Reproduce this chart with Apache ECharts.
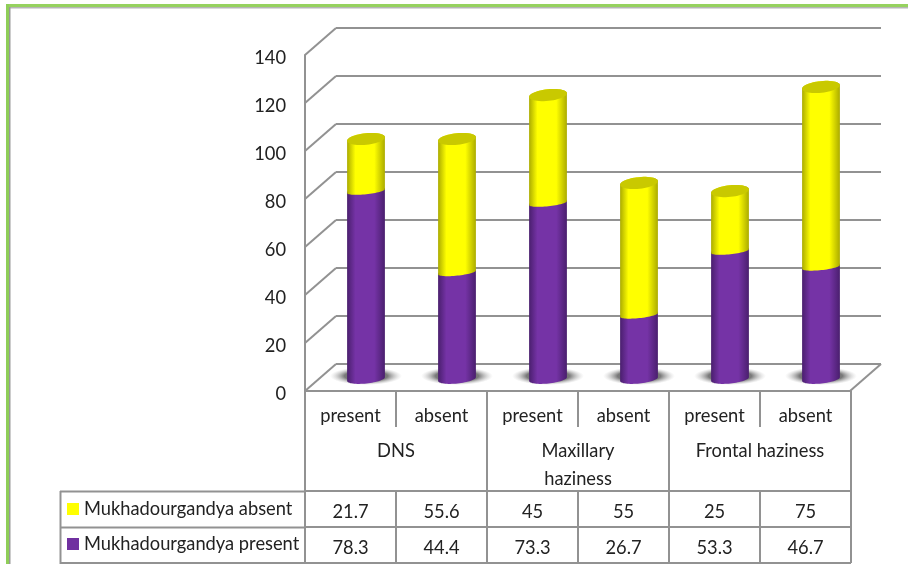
<!DOCTYPE html>
<html>
<head>
<meta charset="utf-8">
<style>html,body{margin:0;padding:0;background:#fff}#c{width:908px;height:564px}</style>
<script src="https://cdn.jsdelivr.net/npm/echarts@6/dist/echarts.min.js"></script>
</head>
<body>
<div id="c"></div>
<script>
const subCategories = ['present', 'absent', 'present', 'absent', 'present', 'absent'];
const groupCategories = ['DNS', 'Maxillary\nhaziness', 'Frontal haziness'];
const presentValues = [78.3, 44.4, 73.3, 26.7, 53.3, 46.7];
const absentValues = [21.7, 55.6, 45, 55, 25, 75];
const presentName = 'Mukhadourgandya present';
const absentName = 'Mukhadourgandya absent';
const yTicks = [0, 20, 40, 60, 80, 100, 120, 140];

const FONT = 'Lato';
const FONT_SIZE = 18.3;
const TEXT = '#222';
const LINE = '#929292';
const DEPTH_X = 31, DEPTH_Y = 27;
const RX = 19, RY = 5.8, TILT = -6 * Math.PI / 180;

// Point on a tilted ellipse around (cx, cy)
function ell(cx, cy, t, ry) {
  const x = RX * Math.cos(t), y = ry * Math.sin(t);
  return [cx + x * Math.cos(TILT) - y * Math.sin(TILT), cy + x * Math.sin(TILT) + y * Math.cos(TILT)];
}
// Outline of the cylinder wall between two centre points, lower edge curved
function bodyPoints(cx, yLow, yHigh, lowRy) {
  const pts = [];
  for (let k = 0; k <= 32; k++) pts.push(ell(cx, yLow, Math.PI * k / 32, lowRy));
  for (let k = 0; k <= 32; k++) pts.push(ell(cx, yHigh, Math.PI + Math.PI * k / 32, RY));
  return pts;
}
function capPoints(cx, cy) {
  const pts = [];
  for (let k = 0; k < 48; k++) pts.push(ell(cx, cy, 2 * Math.PI * k / 48, RY));
  return pts;
}
function sideGradient(edge, mid) {
  return new echarts.graphic.LinearGradient(0, 0, 1, 0, [
    { offset: 0, color: edge }, { offset: 0.22, color: mid },
    { offset: 0.72, color: mid }, { offset: 1, color: edge }
  ]);
}
function cylinderItem(edge, mid, capColor, onFloor) {
  return function (params, api) {
    const i = api.value(0);
    const low = api.coord([i, api.value(1)]);
    const high = api.coord([i, api.value(2)]);
    const children = [];
    if (onFloor) {
      // Soft contact shadow: a unit circle stretched into an ellipse
      children.push({
        type: 'circle',
        x: low[0], y: low[1] - 3, scaleX: 36, scaleY: 9,
        shape: { cx: 0, cy: 0, r: 1 },
        style: {
          fill: new echarts.graphic.RadialGradient(0.5, 0.5, 0.5, [
            { offset: 0, color: 'rgba(70,70,70,0.95)' },
            { offset: 0.6, color: 'rgba(100,100,100,0.85)' },
            { offset: 1, color: 'rgba(190,190,190,0)' }
          ])
        }
      });
    }
    children.push({
      type: 'polygon',
      shape: { points: bodyPoints(low[0], low[1], high[1], onFloor ? 4.5 : 3.2) },
      style: { fill: sideGradient(edge, mid) }
    });
    if (capColor) {
      children.push({
        type: 'polygon',
        shape: { points: capPoints(high[0], high[1]) },
        style: { fill: capColor }
      });
    }
    return { type: 'group', children };
  };
}

const presentData = presentValues.map((v, i) => [i, 0, v]);
const absentData = absentValues.map((v, i) => [i, presentValues[i], presentValues[i] + v]);

// Category axes stacked under the plot: labels, group names and the two table rows
const bottomAxis = (data, offset, margin, tickLen, extra) => Object.assign({
  type: 'category', gridIndex: 0, position: 'bottom', data, offset,
  axisLine: { show: true, onZero: false, lineStyle: { color: LINE, width: 2 } },
  axisTick: { show: true, length: tickLen, lineStyle: { color: LINE, width: 2 } },
  axisLabel: { show: true, interval: 0, margin, verticalAlign: 'top', fontFamily: FONT, fontSize: FONT_SIZE, color: TEXT, lineHeight: 28 }
}, extra || {});

const option = {
  animation: false,
  backgroundColor: '#fff',
  grid: [
    { left: 305, top: 55, width: 546, height: 336 },
    { left: 320.5, top: 43, width: 546, height: 336 },
    { left: 336, top: 28, width: 545, height: 336 }
  ],
  xAxis: [
    bottomAxis(subCategories, 0, 11, 36),
    bottomAxis(groupCategories, 0, 46, 100, { axisLine: { show: false } }),
    bottomAxis(absentValues.map(String), 100, 7, 36),
    bottomAxis(presentValues.map(String), 136, 7, 36),
    { type: 'category', gridIndex: 1, data: subCategories, show: false },
    { type: 'category', gridIndex: 2, data: subCategories, show: false }
  ],
  yAxis: [
    {
      type: 'value', gridIndex: 0, min: 0, max: 140, interval: 20,
      axisLine: { show: true, lineStyle: { color: LINE, width: 2 } },
      axisTick: { show: false }, splitLine: { show: false },
      axisLabel: { margin: 19, fontFamily: FONT, fontSize: FONT_SIZE, color: TEXT, verticalAlign: 'top', lineHeight: 6 }
    },
    { type: 'value', gridIndex: 1, min: 0, max: 140, interval: 20, show: false },
    {
      type: 'value', gridIndex: 2, min: 0, max: 140, interval: 20,
      axisLine: { show: false }, axisTick: { show: false }, axisLabel: { show: false },
      splitLine: { show: true, lineStyle: { color: LINE, width: 2 } }
    }
  ],
  legend: {
    orient: 'vertical', left: 62, top: 495, itemWidth: 12, itemHeight: 12, itemGap: 17,
    selectedMode: false, data: [absentName, presentName], icon: 'rect',
    textStyle: { fontFamily: FONT, fontSize: FONT_SIZE, color: TEXT }
  },
  series: [
    {
      // Receding edges joining the front axis to the back wall
      type: 'custom', xAxisIndex: 5, yAxisIndex: 2, silent: true, clip: false, z: 1,
      data: yTicks.map(v => [0, v]),
      renderItem(params, api) {
        const v = api.value(1);
        const y = api.coord([0, v])[1];
        const left = params.coordSys.x;
        const right = left + params.coordSys.width;
        const st = { stroke: LINE, lineWidth: 2, fill: 'none' };
        const children = [{
          type: 'line', shape: { x1: left, y1: y, x2: left - DEPTH_X, y2: y + DEPTH_Y }, style: st
        }];
        if (v === 0) {
          children.push({ type: 'line', shape: { x1: right, y1: y, x2: right - DEPTH_X, y2: y + DEPTH_Y }, style: st });
        }
        return { type: 'group', children };
      }
    },
    {
      name: presentName, type: 'custom', xAxisIndex: 4, yAxisIndex: 1, clip: false, z: 3,
      itemStyle: { color: '#7030A0' },
      encode: { x: 0, y: [1, 2] },
      data: presentData,
      renderItem: cylinderItem('#4A1F6E', '#7533A6', null, true)
    },
    {
      name: absentName, type: 'custom', xAxisIndex: 4, yAxisIndex: 1, clip: false, z: 4,
      itemStyle: { color: '#FFFF00' },
      encode: { x: 0, y: [1, 2] },
      data: absentData,
      renderItem: cylinderItem('#ABAB00', '#FFFF00', '#C9C900', false)
    }
  ],
  graphic: [
    // Outer frame
    { type: 'rect', shape: { x: 6, y: 4, width: 902, height: 3 }, style: { fill: '#96D25F' }, silent: true },
    { type: 'rect', shape: { x: 6, y: 4, width: 3, height: 560 }, style: { fill: '#8FCE58' }, silent: true },
    { type: 'rect', shape: { x: 9, y: 7, width: 899, height: 1.5 }, style: { fill: '#B5B5B5' }, silent: true },
    { type: 'rect', shape: { x: 9, y: 7, width: 1.5, height: 557 }, style: { fill: '#999' }, silent: true },
    // Row-header part of the data table
    { type: 'line', shape: { x1: 60, y1: 491.5, x2: 305, y2: 491.5 }, style: { stroke: LINE, lineWidth: 2 }, silent: true },
    { type: 'line', shape: { x1: 60, y1: 527.5, x2: 305, y2: 527.5 }, style: { stroke: LINE, lineWidth: 2 }, silent: true },
    { type: 'line', shape: { x1: 60, y1: 563, x2: 851, y2: 563 }, style: { stroke: LINE, lineWidth: 2 }, silent: true },
    { type: 'line', shape: { x1: 60.5, y1: 491, x2: 60.5, y2: 564 }, style: { stroke: LINE, lineWidth: 2 }, silent: true }
  ]
};

echarts.init(document.getElementById('c'), null, { renderer: 'canvas' }).setOption(option);
</script>
</body>
</html>
